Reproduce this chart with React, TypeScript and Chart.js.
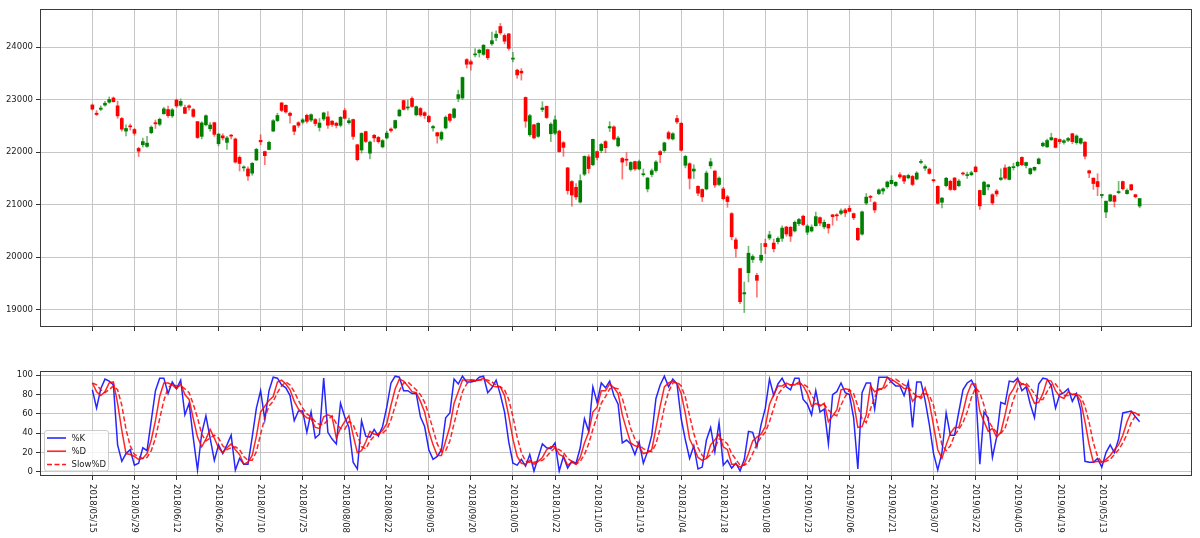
import React, { useEffect, useRef } from "react";
import { Chart, registerables } from "chart.js";

Chart.register(...registerables);

const tickLabels = [
  "2018/05/15", "2018/05/29", "2018/06/12", "2018/06/26", "2018/07/10", "2018/07/25",
  "2018/08/08", "2018/08/22", "2018/09/05", "2018/09/20", "2018/10/05", "2018/10/22",
  "2018/11/05", "2018/11/19", "2018/12/04", "2018/12/18", "2019/01/08", "2019/01/23",
  "2019/02/06", "2019/02/21", "2019/03/07", "2019/03/22", "2019/04/05", "2019/04/19",
  "2019/05/13",
];
const tickIdx = [0, 10, 20, 30, 40, 50, 60, 70, 80, 90, 100, 110, 120, 130, 140, 150, 160, 170, 180, 190, 200, 210, 220, 230, 240];
const priceTicks = [19000, 20000, 21000, 22000, 23000, 24000];
const oscTicks = [0, 20, 40, 60, 80, 100];

const opens = [
  22896, 22740, 22815, 22895, 22950, 23030, 22880, 22640, 22400, 22500,
  22430, 22070, 22140, 22110, 22370, 22560, 22530, 22730, 22810, 22690,
  22990, 22890, 22850, 22880, 22810, 22580, 22300, 22520, 22445, 22560,
  22160, 22310, 22185, 22320, 22250, 21900, 21700, 21680, 21600, 21850,
  22225, 22010, 22050, 22400, 22600, 22935, 22890, 22740, 22500, 22560,
  22570, 22700, 22610, 22620, 22470, 22630, 22670, 22590, 22550, 22510,
  22790, 22560, 22620, 22140, 22040, 22390, 21980, 22320, 22280, 22100,
  22270, 22440, 22460, 22690, 22980, 22840, 23020, 22710, 22830, 22750,
  22680, 22460, 22370, 22250, 22460, 22720, 22660, 23020, 23030, 23760,
  23720, 23850, 23890, 23860, 23950, 24060, 24180, 24390, 24220, 24250,
  23770, 23560, 23540, 23040, 22330, 22520, 22300, 22810, 22870, 22350,
  22360, 22400, 22180, 21700, 21440, 21330, 21050, 21580, 21910, 21760,
  22010, 22030, 22200, 22460, 22480, 22120, 21880, 21860, 21670, 21820,
  21680, 21570, 21300, 21575, 21650, 22010, 22030, 22370, 22250, 22640,
  22550, 21750, 21780, 21640, 21350, 21290, 21300, 21740, 21640, 21385,
  21300, 21150, 20830, 20330, 19785, 19302, 19706, 19957, 19655, 19944,
  20262, 20366, 20270, 20296, 20360, 20575, 20570, 20500, 20640, 20780,
  20476, 20500, 20600, 20754, 20578, 20627, 20807, 20800, 20835, 20900,
  20930, 20830, 20550, 20440, 21030, 21150, 21040, 21210, 21260, 21340,
  21400, 21365, 21570, 21550, 21510, 21538, 21488, 21804, 21695, 21677,
  21470, 21349, 21046, 21362, 21444, 21507, 21362, 21589, 21555, 21570,
  21715, 21270, 21191, 21340, 21190, 21260, 21480, 21700, 21480, 21705,
  21740, 21900, 21745, 21590, 21660, 21780, 22120, 22100, 22235, 22260,
  22240, 22185, 22225, 22350, 22180, 22170, 22190, 21645, 21505, 21440,
  21175, 20860, 21070, 21170, 21230, 21440, 21210, 21380, 21190, 20975,
];
const highs = [
  22915, 22790, 22880, 22965, 23050, 23050, 22970, 22660, 22517, 22535,
  22450, 22094, 22265, 22300, 22500, 22610, 22650, 22850, 22875, 22830,
  23010, 23011, 22895, 22900, 22830, 22585, 22580, 22710, 22560, 22570,
  22360, 22350, 22300, 22340, 22270, 21930, 21740, 21720, 21800, 22075,
  22330, 22020, 22210, 22620, 22740, 22950, 22900, 22760, 22510, 22580,
  22640, 22725, 22730, 22640, 22640, 22760, 22770, 22600, 22570, 22680,
  22830, 22650, 22630, 22150, 22370, 22400, 22210, 22340, 22300, 22240,
  22400, 22460, 22610, 22820, 22990, 22990, 23050, 22880, 22850, 22770,
  22700, 22510, 22380, 22400, 22690, 22740, 22840, 23180, 23430, 23780,
  23750, 23970, 23960, 24050, 23960, 24286, 24306, 24448, 24250, 24260,
  23900, 23580, 23590, 23050, 22720, 22530, 22560, 22960, 22880, 22560,
  22690, 22420, 22200, 21710, 21460, 21400, 21570, 21930, 21950, 22250,
  22020, 22170, 22220, 22580, 22500, 22300, 21900, 21990, 21820, 21830,
  21850, 21680, 21520, 21680, 21840, 22030, 22190, 22400, 22370, 22698,
  22560, 21940, 21800, 21760, 21360, 21300, 21640, 21880, 21650, 21530,
  21330, 21180, 20850, 20370, 19785, 19530, 20211, 20048, 19692, 20266,
  20346, 20494, 20345, 20389, 20600, 20590, 20590, 20690, 20740, 20800,
  20620, 20617, 20860, 20770, 20710, 20633, 20815, 20831, 20920, 20930,
  20981, 20841, 20560, 20880, 21213, 21180, 21060, 21300, 21320, 21450,
  21553, 21440, 21610, 21560, 21580, 21560, 21630, 21860, 21760, 21700,
  21480, 21360, 21140, 21520, 21470, 21520, 21480, 21620, 21620, 21640,
  21740, 21280, 21450, 21390, 21210, 21290, 21680, 21760, 21730, 21790,
  21830, 21910, 21810, 21700, 21720, 21890, 22190, 22250, 22360, 22270,
  22250, 22240, 22280, 22360, 22330, 22270, 22200, 21660, 21510, 21590,
  21200, 21070, 21200, 21180, 21444, 21450, 21300, 21390, 21200, 21120,
];
const lows = [
  22800, 22695, 22790, 22876, 22930, 22950, 22645, 22400, 22308, 22420,
  22320, 21917, 22094, 22090, 22350, 22450, 22500, 22720, 22660, 22660,
  22850, 22870, 22730, 22800, 22660, 22260, 22250, 22500, 22400, 22300,
  22120, 22230, 22050, 22250, 21790, 21640, 21640, 21462, 21560, 21840,
  22140, 21760, 22040, 22390, 22580, 22770, 22740, 22550, 22330, 22470,
  22540, 22550, 22580, 22500, 22400, 22600, 22450, 22490, 22460, 22480,
  22630, 22530, 22240, 21830, 21980, 22180, 21870, 22200, 22170, 22080,
  22250, 22380, 22440, 22680, 22800, 22800, 22850, 22690, 22680, 22640,
  22560, 22400, 22170, 22220, 22440, 22570, 22640, 22960, 23000, 23600,
  23560, 23810, 23810, 23840, 23760, 24030, 24120, 24240, 24060, 23940,
  23716, 23400, 23370, 22473, 22300, 22250, 22280, 22770, 22640, 22200,
  22330, 22000, 21920, 21200, 20971, 21100, 21030, 21550, 21600, 21740,
  21850, 21990, 21990, 22390, 22230, 22100, 21486, 21740, 21640, 21650,
  21660, 21540, 21243, 21530, 21620, 21800, 22000, 22240, 22230, 22540,
  22020, 21700, 21300, 21500, 21170, 21060, 21280, 21690, 21330, 21360,
  21090, 20950, 20330, 20006, 19117, 18948, 19530, 19900, 19241, 19896,
  20069, 20331, 20101, 20254, 20300, 20400, 20300, 20480, 20600, 20600,
  20430, 20480, 20590, 20601, 20541, 20459, 20607, 20702, 20803, 20774,
  20862, 20714, 20315, 20420, 21000, 21060, 20850, 21190, 21200, 21310,
  21390, 21340, 21500, 21400, 21490, 21360, 21470, 21780, 21650, 21580,
  21430, 21010, 20940, 21340, 21270, 21270, 21340, 21560, 21500, 21550,
  21620, 20910, 21180, 21280, 21000, 21160, 21460, 21480, 21470, 21660,
  21720, 21740, 21700, 21570, 21640, 21770, 22100, 22090, 22220, 22080,
  22160, 22150, 22200, 22160, 22150, 22150, 21870, 21515, 21290, 21172,
  21130, 20751, 21060, 20958, 21210, 21280, 21200, 21270, 21130, 20940,
];
const closes = [
  22818, 22717, 22838, 22930, 23002, 22960, 22689, 22437, 22450, 22481,
  22358, 22018, 22201, 22171, 22475, 22539, 22625, 22823, 22694, 22804,
  22878, 22966, 22738, 22851, 22680, 22278, 22555, 22693, 22516, 22338,
  22342, 22271, 22270, 22304, 21811, 21785, 21717, 21546, 21788, 22052,
  22196, 21932, 22187, 22597, 22697, 22794, 22764, 22697, 22396, 22510,
  22614, 22586, 22712, 22544, 22553, 22746, 22512, 22525, 22507, 22662,
  22644, 22598, 22298, 21857, 22356, 22204, 22192, 22270, 22199, 22219,
  22362, 22410, 22601, 22799, 22813, 22848, 22869, 22865, 22707, 22696,
  22580, 22487, 22307, 22373, 22664, 22604, 22821, 23094, 23420, 23672,
  23674, 23869, 23940, 24033, 23796, 24120, 24245, 24270, 24110, 23975,
  23783, 23469, 23506, 22590, 22694, 22271, 22549, 22841, 22658, 22532,
  22614, 22010, 22091, 21268, 21184, 21149, 21457, 21920, 21687, 22243,
  21898, 22147, 22085, 22486, 22250, 22269, 21810, 21846, 21803, 21680,
  21821, 21583, 21507, 21646, 21812, 21952, 22177, 22262, 22351, 22574,
  22036, 21919, 21501, 21678, 21219, 21148, 21602, 21816, 21374, 21506,
  21115, 21060, 20392, 20166, 19155, 19327, 20077, 20014, 19561, 20038,
  20204, 20427, 20163, 20359, 20555, 20442, 20402, 20666, 20719, 20622,
  20593, 20574, 20773, 20649, 20664, 20556, 20773, 20788, 20883, 20844,
  20874, 20751, 20333, 20864, 21144, 21139, 20900, 21281, 21302, 21431,
  21464, 21425, 21528, 21449, 21556, 21385, 21602, 21822, 21726, 21596,
  21456, 21025, 21125, 21503, 21290, 21287, 21450, 21584, 21566, 21608,
  21627, 20977, 21428, 21378, 21033, 21205, 21509, 21505, 21713, 21724,
  21807, 21761, 21802, 21687, 21711, 21870, 22169, 22221, 22277, 22090,
  22200, 22217, 22259, 22200, 22307, 22258, 21923, 21602, 21402, 21344,
  21191, 21067, 21188, 21062, 21250, 21301, 21272, 21283, 21151, 21117,
];

const kValues = [
  85, 66, 86, 96, 94, 90, 28, 11, 19, 23, 7, 9, 25, 22, 53, 84, 97, 97, 81, 93, 86, 95, 59, 71, 35,
  2, 40, 58, 35, 12, 28, 19, 28, 38, 2, 14, 8, 8, 36, 66, 84, 54, 84, 98, 97, 90, 87, 79, 53, 63,
  63, 41, 62, 35, 39, 97, 41, 34, 29, 71, 57, 46, 10, 3, 53, 37, 36, 44, 37, 47, 67, 92, 99, 98, 84,
  84, 81, 81, 57, 47, 23, 13, 16, 23, 56, 61, 96, 91, 99, 93, 93, 94, 98, 99, 82, 87, 95, 80, 62, 31,
  9, 7, 13, 6, 18, 1, 15, 29, 25, 24, 30, 1, 16, 4, 11, 9, 25, 55, 42, 88, 72, 92, 87, 94, 79,
  70, 30, 33, 29, 18, 31, 9, 21, 38, 76, 90, 99, 88, 96, 91, 55, 33, 14, 27, 3, 5, 33, 46, 21, 51,
  7, 12, 4, 9, 1, 13, 42, 41, 26, 49, 66, 96, 79, 91, 97, 88, 85, 97, 97, 75, 70, 59, 84, 62, 65,
  29, 80, 83, 92, 82, 80, 56, 3, 82, 92, 92, 65, 98, 98, 98, 93, 89, 89, 79, 93, 46, 93, 93, 74, 49,
  19, 2, 20, 61, 38, 38, 62, 85, 92, 95, 86, 8, 62, 56, 15, 36, 72, 70, 94, 93, 97, 84, 88, 70, 56,
  91, 97, 96, 89, 66, 80, 82, 86, 73, 81, 64, 11, 10, 10, 14, 5, 20, 28, 20, 34, 61, 62, 63, 57, 52,
];
const dValues = [
  92, 83, 79, 83, 92, 93, 71, 43, 19, 18, 16, 13, 14, 19, 33, 53, 78, 92, 92, 90, 86, 91, 80, 75, 55,
  36, 26, 34, 44, 35, 25, 20, 25, 29, 23, 18, 8, 10, 17, 37, 62, 68, 74, 78, 93, 95, 91, 85, 73, 65,
  60, 56, 55, 46, 45, 57, 59, 57, 35, 45, 52, 58, 38, 20, 22, 31, 42, 39, 39, 43, 50, 69, 86, 96, 94,
  89, 83, 82, 73, 62, 42, 28, 17, 17, 32, 47, 71, 83, 95, 95, 95, 94, 95, 97, 93, 89, 88, 88, 79, 58,
  34, 16, 9, 8, 12, 8, 11, 15, 23, 26, 26, 18, 16, 7, 10, 8, 15, 30, 41, 62, 67, 84, 84, 91, 87,
  81, 59, 44, 30, 27, 26, 19, 20, 23, 45, 68, 88, 92, 94, 92, 81, 60, 34, 25, 15, 12, 14, 28, 33, 39,
  26, 23, 8, 8, 5, 8, 19, 32, 36, 39, 47, 70, 80, 89, 89, 92, 90, 90, 93, 89, 81, 68, 71, 68, 71,
  52, 58, 64, 85, 86, 85, 72, 46, 47, 59, 89, 83, 85, 87, 98, 96, 93, 90, 86, 87, 73, 78, 78, 87, 72,
  48, 23, 14, 28, 40, 46, 46, 62, 80, 91, 91, 63, 52, 42, 45, 36, 41, 59, 79, 86, 95, 91, 90, 81, 71,
  72, 81, 95, 94, 84, 78, 76, 83, 80, 80, 73, 52, 28, 10, 11, 10, 13, 17, 23, 28, 38, 52, 62, 61, 58,
];
const slowDValues = [
  92, 90, 85, 82, 85, 89, 85, 69, 44, 27, 18, 16, 14, 15, 22, 35, 55, 74, 87, 91, 89, 89, 86, 82, 70,
  56, 39, 32, 35, 38, 35, 27, 23, 25, 26, 23, 16, 12, 12, 21, 39, 56, 68, 73, 82, 89, 93, 90, 83, 74,
  66, 60, 57, 52, 49, 49, 54, 58, 50, 45, 44, 52, 49, 38, 26, 24, 32, 37, 40, 40, 44, 54, 68, 84, 92,
  93, 89, 85, 80, 72, 59, 44, 29, 21, 22, 32, 50, 67, 83, 91, 95, 95, 95, 95, 95, 93, 90, 88, 85, 75,
  57, 36, 20, 11, 10, 10, 11, 12, 16, 21, 25, 23, 20, 14, 11, 8, 11, 18, 29, 44, 57, 71, 78, 86, 87,
  86, 76, 61, 45, 34, 28, 24, 22, 21, 29, 45, 67, 83, 92, 93, 89, 77, 58, 40, 25, 17, 14, 18, 25, 34,
  33, 29, 19, 13, 7, 7, 10, 19, 29, 36, 41, 52, 66, 80, 86, 90, 90, 91, 91, 91, 88, 79, 73, 69, 70,
  64, 60, 58, 69, 78, 85, 81, 68, 55, 51, 65, 77, 86, 85, 90, 94, 96, 93, 90, 88, 82, 79, 76, 81, 79,
  69, 48, 28, 22, 27, 38, 44, 51, 62, 77, 87, 82, 69, 53, 46, 41, 40, 45, 60, 75, 86, 91, 92, 87, 81,
  75, 75, 83, 90, 91, 85, 79, 79, 80, 81, 78, 68, 51, 30, 16, 10, 11, 13, 18, 23, 30, 39, 51, 58, 60,
];

const FONT = '"DejaVu Sans", sans-serif';
const GRID = "#c6c6c6";
const X_MIN = -12.45;
const X_MAX = 261.45;

const framePlugin = {
  id: "frame",
  afterDraw(chart: any) {
    const { ctx, chartArea: a } = chart;
    ctx.save();
    ctx.strokeStyle = "#3a3a3a";
    ctx.lineWidth = 1;
    ctx.strokeRect(Math.round(a.left) + 0.5, Math.round(a.top) + 0.5, Math.round(a.right - a.left) - 1, Math.round(a.bottom - a.top) - 1);
    ctx.restore();
  },
};

const xLabelPlugin = {
  id: "xlabels",
  afterDraw(chart: any) {
    const { ctx, scales, chartArea } = chart;
    ctx.save();
    ctx.font = `8.5px ${FONT}`;
    ctx.fillStyle = "#222";
    ctx.textAlign = "left";
    ctx.textBaseline = "middle";
    tickIdx.forEach((v, k) => {
      const x = scales.x.getPixelForValue(v);
      ctx.save();
      ctx.translate(x, chartArea.bottom + 8);
      ctx.rotate(Math.PI / 2);
      ctx.fillText(tickLabels[k], 0, 0);
      ctx.restore();
    });
    ctx.restore();
  },
};

const legendPlugin = {
  id: "osclegend",
  afterDraw(chart: any) {
    const { ctx, chartArea: a } = chart;
    const x0 = a.left + 4.5, y0 = a.bottom - 45.5, w = 64, h = 40.5, r = 2.5;
    ctx.save();
    ctx.beginPath();
    ctx.moveTo(x0 + r, y0);
    ctx.lineTo(x0 + w - r, y0);
    ctx.quadraticCurveTo(x0 + w, y0, x0 + w, y0 + r);
    ctx.lineTo(x0 + w, y0 + h - r);
    ctx.quadraticCurveTo(x0 + w, y0 + h, x0 + w - r, y0 + h);
    ctx.lineTo(x0 + r, y0 + h);
    ctx.quadraticCurveTo(x0, y0 + h, x0, y0 + h - r);
    ctx.lineTo(x0, y0 + r);
    ctx.quadraticCurveTo(x0, y0, x0 + r, y0);
    ctx.closePath();
    ctx.fillStyle = "rgba(255,255,255,0.8)";
    ctx.fill();
    ctx.strokeStyle = "#cccccc";
    ctx.lineWidth = 1;
    ctx.stroke();
    const items = [
      { label: "%K", color: "rgba(0,0,255,0.9)", dash: [] as number[] },
      { label: "%D", color: "rgba(255,0,0,0.9)", dash: [] as number[] },
      { label: "Slow%D", color: "rgba(255,0,0,0.9)", dash: [5, 2.5] },
    ];
    ctx.font = `8.5px ${FONT}`;
    ctx.textAlign = "left";
    ctx.textBaseline = "middle";
    items.forEach((it, k) => {
      const y = y0 + 7.5 + k * 13.2;
      ctx.beginPath();
      ctx.setLineDash(it.dash);
      ctx.strokeStyle = it.color;
      ctx.lineWidth = 1.5;
      ctx.moveTo(x0 + 2.5, y);
      ctx.lineTo(x0 + 21.5, y);
      ctx.stroke();
      ctx.setLineDash([]);
      ctx.fillStyle = "#222";
      ctx.fillText(it.label, x0 + 27, y + 0.5);
    });
    ctx.restore();
  },
};

function xScale(height: number) {
  return {
    type: "linear" as const,
    min: X_MIN,
    max: X_MAX,
    offset: false,
    afterBuildTicks: (s: any) => { s.ticks = tickIdx.map((v) => ({ value: v })); },
    afterFit: (s: any) => { s.height = height; s.paddingLeft = 0; s.paddingRight = 0; },
    ticks: { display: false },
    grid: { color: GRID, lineWidth: 1, tickLength: 4, tickColor: "#333", drawTicks: true, offset: false },
    border: { display: false },
  };
}

function yScale(min: number, max: number, ticks: number[]) {
  return {
    min,
    max,
    afterBuildTicks: (s: any) => { s.ticks = ticks.map((v) => ({ value: v })); },
    afterFit: (s: any) => { s.width = 40; s.paddingTop = 0; s.paddingBottom = 0; },
    ticks: { font: { family: FONT, size: 8.5 }, color: "#222", padding: 3, callback: (v: any) => String(v) },
    grid: { color: GRID, lineWidth: 1, tickLength: 4, tickColor: "#333", drawTicks: true, offset: false },
    border: { display: false },
  };
}

export default function App() {
  const topRef = useRef<HTMLCanvasElement>(null);
  const botRef = useRef<HTMLCanvasElement>(null);

  useEffect(() => {
    const n = closes.length;
    const idx = Array.from({ length: n }, (_, i) => i);
    const up = idx.map((i) => closes[i] >= opens[i]);
    const bodyColors = up.map((u) => (u ? "#008000" : "#ff0000"));
    const wickColors = up.map((u) => (u ? "rgba(0,128,0,0.55)" : "rgba(255,0,0,0.55)"));

    const top = new Chart(topRef.current!, {
      type: "bar",
      data: {
        datasets: [
          {
            data: idx.map((i) => ({ x: i, y: [lows[i], highs[i]] })) as any,
            backgroundColor: wickColors,
            barThickness: 1,
            grouped: false,
            borderWidth: 0,
            order: 2,
          },
          {
            data: idx.map((i) => ({ x: i, y: [opens[i], closes[i]] })) as any,
            backgroundColor: bodyColors,
            barThickness: 3,
            grouped: false,
            borderWidth: 0,
            minBarLength: 1,
            order: 1,
          },
        ],
      },
      options: {
        animation: false,
        responsive: false,
        events: [],
        layout: { padding: { left: 0, right: 8, top: 9, bottom: 0 } },
        plugins: { legend: { display: false }, tooltip: { enabled: false } },
        scales: {
          x: xScale(4) as any,
          y: yScale(18673, 24723, priceTicks) as any,
        },
      },
      plugins: [framePlugin],
    });

    const bot = new Chart(botRef.current!, {
      type: "line",
      data: {
        datasets: [
          { label: "%K", data: idx.map((i) => ({ x: i, y: kValues[i] })), borderColor: "rgba(0,0,255,0.85)", borderWidth: 1.5, pointRadius: 0, order: 2 },
          { label: "%D", data: idx.map((i) => ({ x: i, y: dValues[i] })), borderColor: "rgba(255,0,0,0.85)", borderWidth: 1.5, pointRadius: 0, order: 1 },
          { label: "Slow%D", data: idx.map((i) => ({ x: i, y: slowDValues[i] })), borderColor: "rgba(255,0,0,0.85)", borderWidth: 1.5, borderDash: [5, 2.5], pointRadius: 0, order: 0 },
        ],
      },
      options: {
        animation: false,
        responsive: false,
        events: [],
        layout: { padding: { left: 0, right: 8, top: 11, bottom: 0 } },
        plugins: { legend: { display: false }, tooltip: { enabled: false } },
        scales: {
          x: xScale(62) as any,
          y: yScale(-4.2, 104.4, oscTicks) as any,
        },
      },
      plugins: [framePlugin, legendPlugin, xLabelPlugin],
    });

    return () => { top.destroy(); bot.destroy(); };
  }, []);

  return (
    <div style={{ position: "absolute", left: 0, top: 0, width: 1200, height: 538, background: "#fff" }}>
      <canvas ref={topRef} width={1200} height={331} style={{ position: "absolute", left: 0, top: 0 }} />
      <canvas ref={botRef} width={1200} height={178} style={{ position: "absolute", left: 0, top: 360 }} />
    </div>
  );
}
